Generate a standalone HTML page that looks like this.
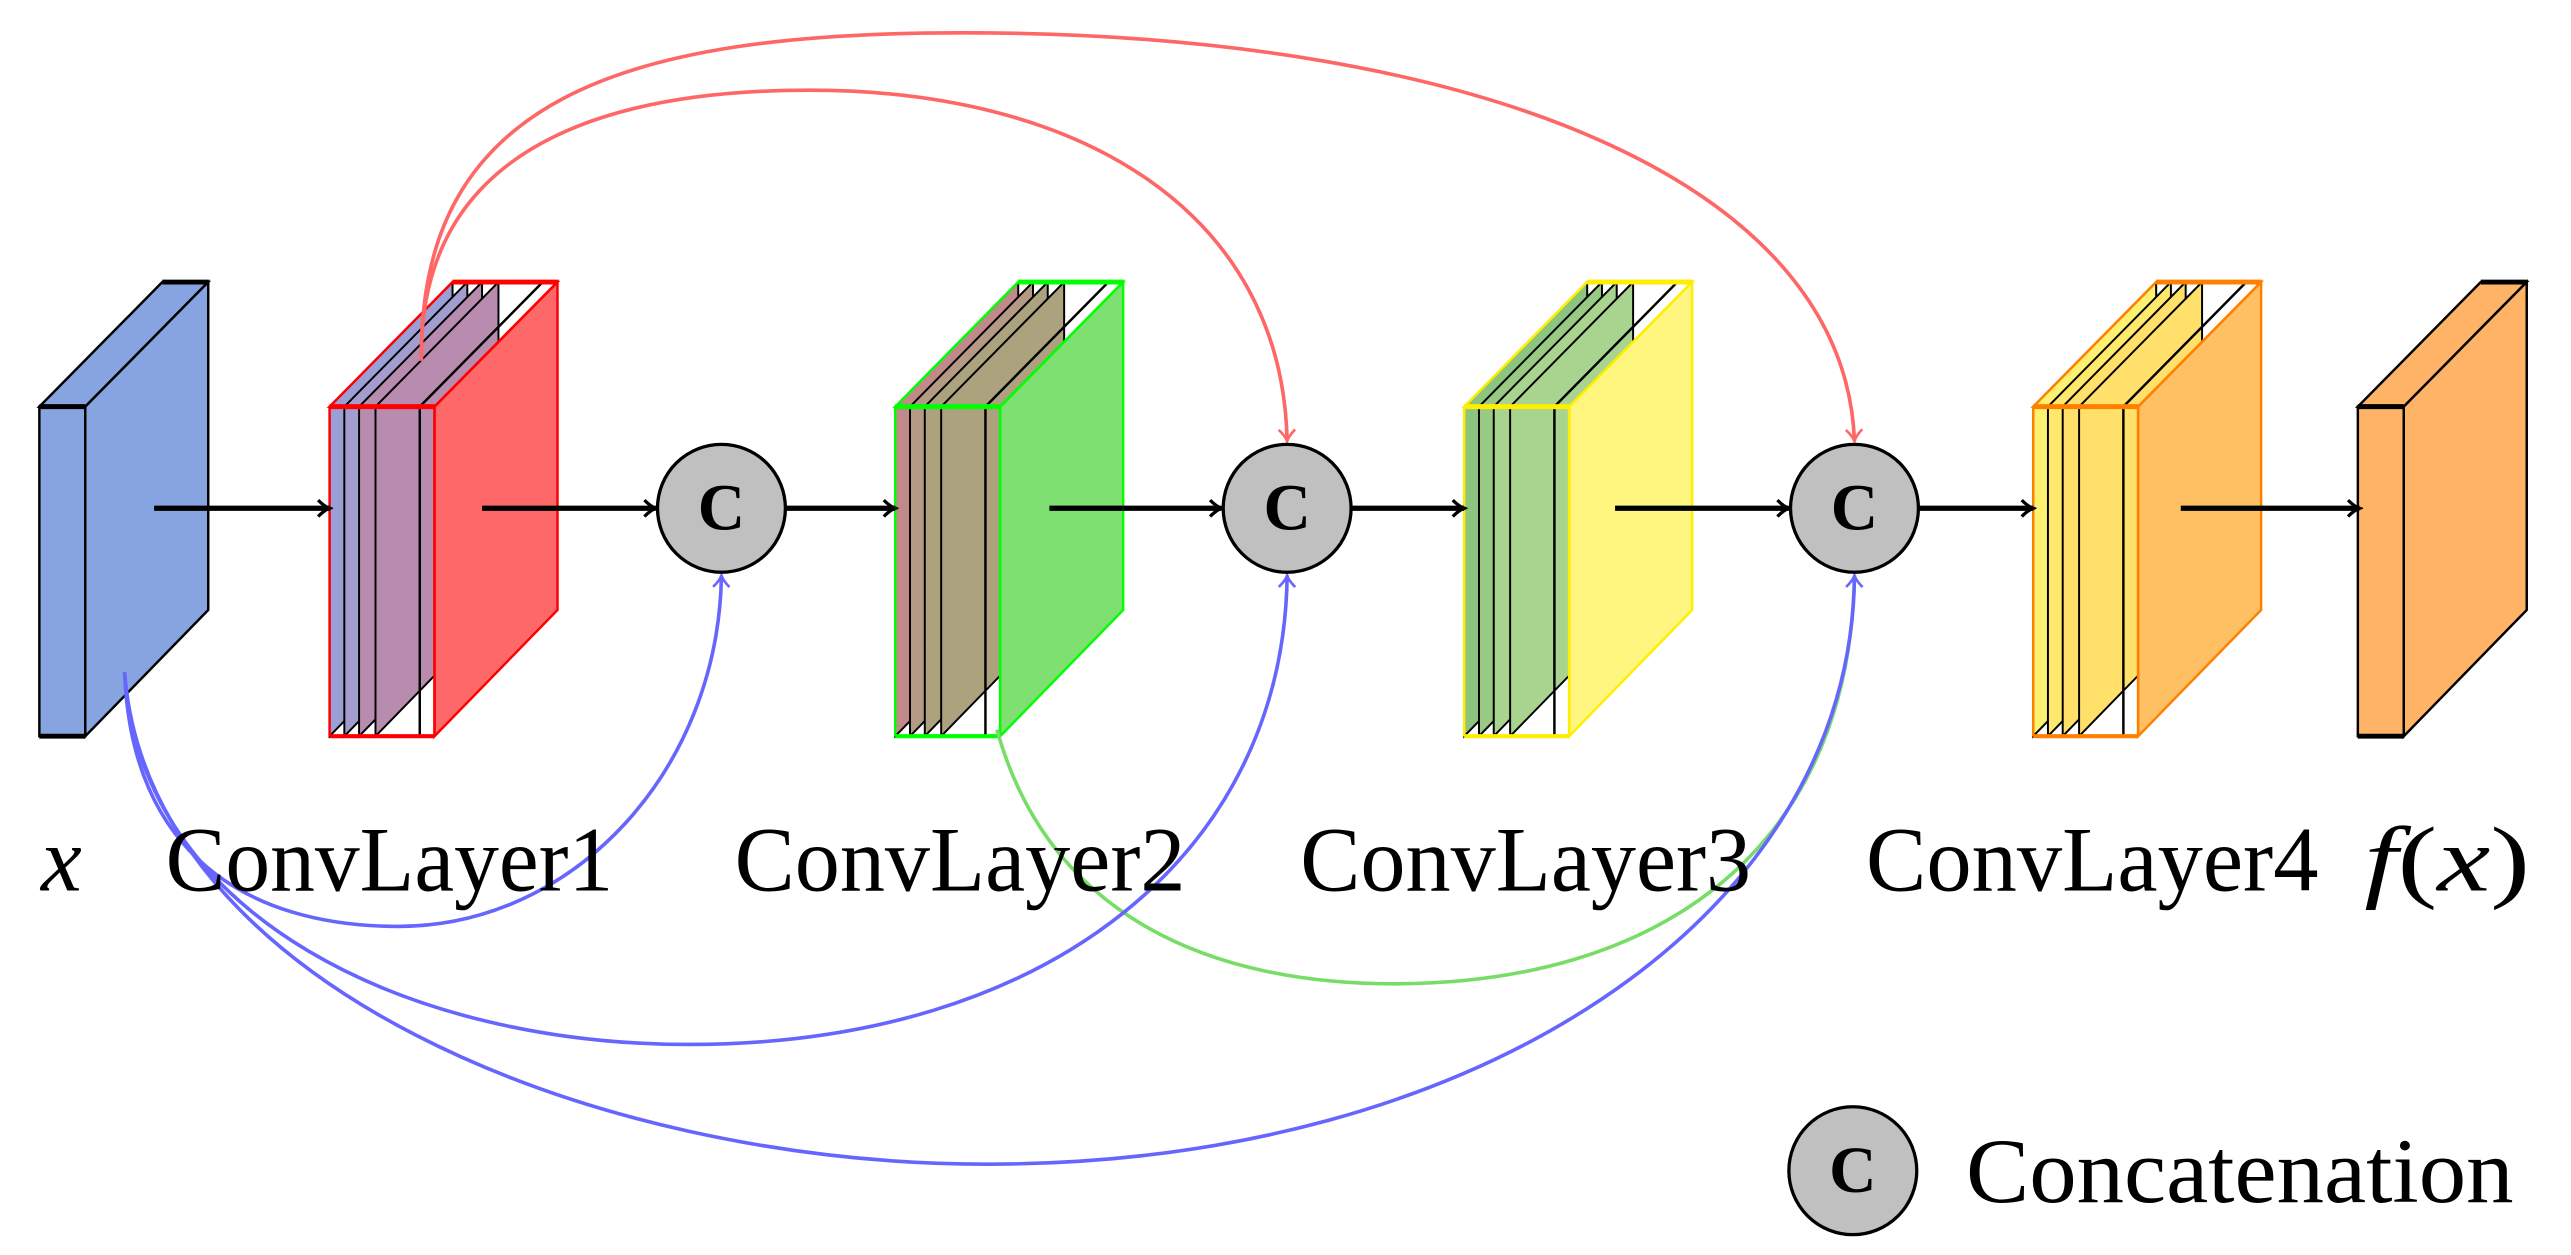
<!DOCTYPE html>
<html><head><meta charset="utf-8"><style>html,body{margin:0;padding:0;background:#fff}svg{display:block}</style></head>
<body>
<svg width="2571" height="1255" viewBox="0 0 1568 765.4" preserveAspectRatio="none" xmlns="http://www.w3.org/2000/svg">
<defs>
<marker id="ak" markerWidth="10" markerHeight="12" refX="8" refY="6" orient="auto" markerUnits="userSpaceOnUse"><path d="M1,1 Q5,5 8,6 Q5,7 1,11" fill="none" stroke="#000" stroke-width="2"/></marker>
<marker id="ar" markerWidth="10" markerHeight="12" refX="8" refY="6" orient="auto" markerUnits="userSpaceOnUse"><path d="M1,1 Q5,5 8,6 Q5,7 1,11" fill="none" stroke="#ff6666" stroke-width="1.6"/></marker>
<marker id="ab" markerWidth="10" markerHeight="12" refX="8" refY="6" orient="auto" markerUnits="userSpaceOnUse"><path d="M1,1 Q5,5 8,6 Q5,7 1,11" fill="none" stroke="#6666ff" stroke-width="1.6"/></marker>
</defs>
<g stroke-linejoin="miter">
<polygon points="24,248 52,248 127,172 99,172" fill="#86a4e0" stroke="#000" stroke-width="1.5"/>
<polygon points="52,248 127,172 127,372 52,449" fill="#86a4e0" stroke="#000" stroke-width="1.5"/>
<rect x="24" y="248" width="28" height="201" fill="#86a4e0" stroke="#000" stroke-width="1.5"/>
<line x1="24" y1="248" x2="52" y2="248" stroke="#000" stroke-width="3"/><line x1="24" y1="449" x2="52" y2="449" stroke="#000" stroke-width="3"/><line x1="99" y1="172" x2="127" y2="172" stroke="#000" stroke-width="3"/>

<g transform="translate(201,0)">
<polygon points="0,248 75,172 75,372 0,449" fill="#9a9fd6" stroke="#000" stroke-width="1.2"/>
<polygon points="9,248 84,172 84,372 9,449" fill="#a39cce" stroke="#000" stroke-width="1.2"/>
<polygon points="18,248 93,172 93,372 18,449" fill="#b88caf" stroke="#000" stroke-width="1.2"/>
<polygon points="28,248 103,172 103,372 28,449" fill="#b88caf" stroke="#000" stroke-width="1.2"/>
<line x1="55" y1="248" x2="55" y2="449" stroke="#000" stroke-width="1.5"/>
<line x1="55" y1="248" x2="130" y2="172" stroke="#000" stroke-width="1.5"/>
<polygon points="64,248 139,172 139,372 64,449" fill="#ff6868" stroke="#ff0000" stroke-width="1.5"/>
<polygon points="0,248 64,248 139,172 75,172" fill="none" stroke="#ff0000" stroke-width="1.5"/>
<line x1="0" y1="248" x2="64" y2="248" stroke="#ff0000" stroke-width="3"/><line x1="0" y1="449" x2="64" y2="449" stroke="#ff0000" stroke-width="2.5"/><line x1="75" y1="172" x2="139" y2="172" stroke="#ff0000" stroke-width="3"/>
<line x1="0" y1="248" x2="0" y2="449" stroke="#ff0000" stroke-width="1.5"/><line x1="64" y1="248" x2="64" y2="449" stroke="#ff0000" stroke-width="1.5"/>
</g>
<g transform="translate(546,0)">
<polygon points="0,248 75,172 75,372 0,449" fill="#c08a8a" stroke="#000" stroke-width="1.2"/>
<polygon points="9,248 84,172 84,372 9,449" fill="#b49a84" stroke="#000" stroke-width="1.2"/>
<polygon points="18,248 93,172 93,372 18,449" fill="#aca27e" stroke="#000" stroke-width="1.2"/>
<polygon points="28,248 103,172 103,372 28,449" fill="#aca27e" stroke="#000" stroke-width="1.2"/>
<line x1="55" y1="248" x2="55" y2="449" stroke="#000" stroke-width="1.5"/>
<line x1="55" y1="248" x2="130" y2="172" stroke="#000" stroke-width="1.5"/>
<polygon points="64,248 139,172 139,372 64,449" fill="#7ee070" stroke="#00ff00" stroke-width="1.5"/>
<polygon points="0,248 64,248 139,172 75,172" fill="none" stroke="#00ff00" stroke-width="1.5"/>
<line x1="0" y1="248" x2="64" y2="248" stroke="#00ff00" stroke-width="3"/><line x1="0" y1="449" x2="64" y2="449" stroke="#00ff00" stroke-width="2.5"/><line x1="75" y1="172" x2="139" y2="172" stroke="#00ff00" stroke-width="3"/>
<line x1="0" y1="248" x2="0" y2="449" stroke="#00ff00" stroke-width="1.5"/><line x1="64" y1="248" x2="64" y2="449" stroke="#00ff00" stroke-width="1.5"/>
</g>
<g transform="translate(893,0)">
<polygon points="0,248 75,172 75,372 0,449" fill="#8dc47e" stroke="#000" stroke-width="1.2"/>
<polygon points="9,248 84,172 84,372 9,449" fill="#98ca84" stroke="#000" stroke-width="1.2"/>
<polygon points="18,248 93,172 93,372 18,449" fill="#a9d490" stroke="#000" stroke-width="1.2"/>
<polygon points="28,248 103,172 103,372 28,449" fill="#a9d490" stroke="#000" stroke-width="1.2"/>
<line x1="55" y1="248" x2="55" y2="449" stroke="#000" stroke-width="1.5"/>
<line x1="55" y1="248" x2="130" y2="172" stroke="#000" stroke-width="1.5"/>
<polygon points="64,248 139,172 139,372 64,449" fill="#fff680" stroke="#ffee00" stroke-width="1.5"/>
<polygon points="0,248 64,248 139,172 75,172" fill="none" stroke="#ffee00" stroke-width="1.5"/>
<line x1="0" y1="248" x2="64" y2="248" stroke="#ffee00" stroke-width="3"/><line x1="0" y1="449" x2="64" y2="449" stroke="#ffee00" stroke-width="2.5"/><line x1="75" y1="172" x2="139" y2="172" stroke="#ffee00" stroke-width="3"/>
<line x1="0" y1="248" x2="0" y2="449" stroke="#ffee00" stroke-width="1.5"/><line x1="64" y1="248" x2="64" y2="449" stroke="#ffee00" stroke-width="1.5"/>
</g>
<g transform="translate(1240,0)">
<polygon points="0,248 75,172 75,372 0,449" fill="#fff170" stroke="#000" stroke-width="1.2"/>
<polygon points="9,248 84,172 84,372 9,449" fill="#ffe86c" stroke="#000" stroke-width="1.2"/>
<polygon points="18,248 93,172 93,372 18,449" fill="#ffe06a" stroke="#000" stroke-width="1.2"/>
<polygon points="28,248 103,172 103,372 28,449" fill="#ffe06a" stroke="#000" stroke-width="1.2"/>
<line x1="55" y1="248" x2="55" y2="449" stroke="#000" stroke-width="1.5"/>
<line x1="55" y1="248" x2="130" y2="172" stroke="#000" stroke-width="1.5"/>
<polygon points="64,248 139,172 139,372 64,449" fill="#ffc064" stroke="#ff8000" stroke-width="1.5"/>
<polygon points="0,248 64,248 139,172 75,172" fill="none" stroke="#ff8000" stroke-width="1.5"/>
<line x1="0" y1="248" x2="64" y2="248" stroke="#ff8000" stroke-width="3"/><line x1="0" y1="449" x2="64" y2="449" stroke="#ff8000" stroke-width="2.5"/><line x1="75" y1="172" x2="139" y2="172" stroke="#ff8000" stroke-width="3"/>
<line x1="0" y1="248" x2="0" y2="449" stroke="#ff8000" stroke-width="1.5"/><line x1="64" y1="248" x2="64" y2="449" stroke="#ff8000" stroke-width="1.5"/>
</g>
<polygon points="1438,248 1466,248 1541,172 1513,172" fill="#ffb366" stroke="#000" stroke-width="1.5"/>
<polygon points="1466,248 1541,172 1541,372 1466,449" fill="#ffb366" stroke="#000" stroke-width="1.5"/>
<rect x="1438" y="248" width="28" height="201" fill="#ffb366" stroke="#000" stroke-width="1.5"/>
<line x1="1438" y1="248" x2="1466" y2="248" stroke="#000" stroke-width="3"/><line x1="1438" y1="449" x2="1466" y2="449" stroke="#000" stroke-width="3"/><line x1="1513" y1="172" x2="1541" y2="172" stroke="#000" stroke-width="3"/>
</g>

<g stroke="#000" stroke-width="3.2" fill="none" marker-end="url(#ak)">
<line x1="94" y1="310" x2="201" y2="310"/>
<line x1="294" y1="310" x2="400" y2="310"/>
<line x1="478" y1="310" x2="546" y2="310"/>
<line x1="640" y1="310" x2="745" y2="310"/>
<line x1="823" y1="310" x2="893" y2="310"/>
<line x1="985" y1="310" x2="1091" y2="310"/>
<line x1="1170" y1="310" x2="1240" y2="310"/>
<line x1="1330" y1="310" x2="1439" y2="310"/>
</g>

<g fill="none" stroke-width="2.2">
<path d="M257,220 C255,95 360,55 494,55 C660,55 782,130 785,269" stroke="#ff6666" marker-end="url(#ar)"/>
<path d="M257,220 C255,60 380,20 587,20 C900,20 1125,110 1131,269" stroke="#ff6666" marker-end="url(#ar)"/>
<path d="M608,445 C640,560 740,600 850,600 C1010,600 1128,520 1131,351" stroke="#77dd66"/>
<path d="M76,410 C80,520 150,565 243,565 C350,565 438,470 440,351" stroke="#6666ff" marker-end="url(#ab)"/>
<path d="M76,410 C85,560 250,637 420,637 C640,637 783,520 785,351" stroke="#6666ff" marker-end="url(#ab)"/>
<path d="M76,410 C90,600 360,710 602,710 C900,710 1129,560 1131,351" stroke="#6666ff" marker-end="url(#ab)"/>
</g>

<g fill="#c0c0c0" stroke="#000" stroke-width="2">
<circle cx="440" cy="310" r="39"/><circle cx="785" cy="310" r="39"/><circle cx="1131" cy="310" r="39"/><circle cx="1130" cy="714" r="39"/>
</g>
<g font-family="Liberation Serif, serif" font-weight="bold" font-size="40" text-anchor="middle" fill="#000">
<text x="440" y="323">C</text><text x="785" y="323">C</text><text x="1131" y="323">C</text><text x="1130" y="727">C</text>
</g>

<g font-family="Liberation Serif, serif" font-size="56" fill="#000">
<text x="25" y="543" font-style="italic">x</text>
<text x="101" y="543" textLength="273" lengthAdjust="spacingAndGlyphs">ConvLayer1</text>
<text x="448" y="543" textLength="275" lengthAdjust="spacingAndGlyphs">ConvLayer2</text>
<text x="793" y="543" textLength="275" lengthAdjust="spacingAndGlyphs">ConvLayer3</text>
<text x="1138" y="543" textLength="276" lengthAdjust="spacingAndGlyphs">ConvLayer4</text>
<text x="1442" y="543" textLength="101" lengthAdjust="spacingAndGlyphs"><tspan font-style="italic">f</tspan>(<tspan font-style="italic">x</tspan>)</text>
<text x="1199" y="733" textLength="334" lengthAdjust="spacingAndGlyphs">Concatenation</text>
</g>
</svg>
</body></html>
